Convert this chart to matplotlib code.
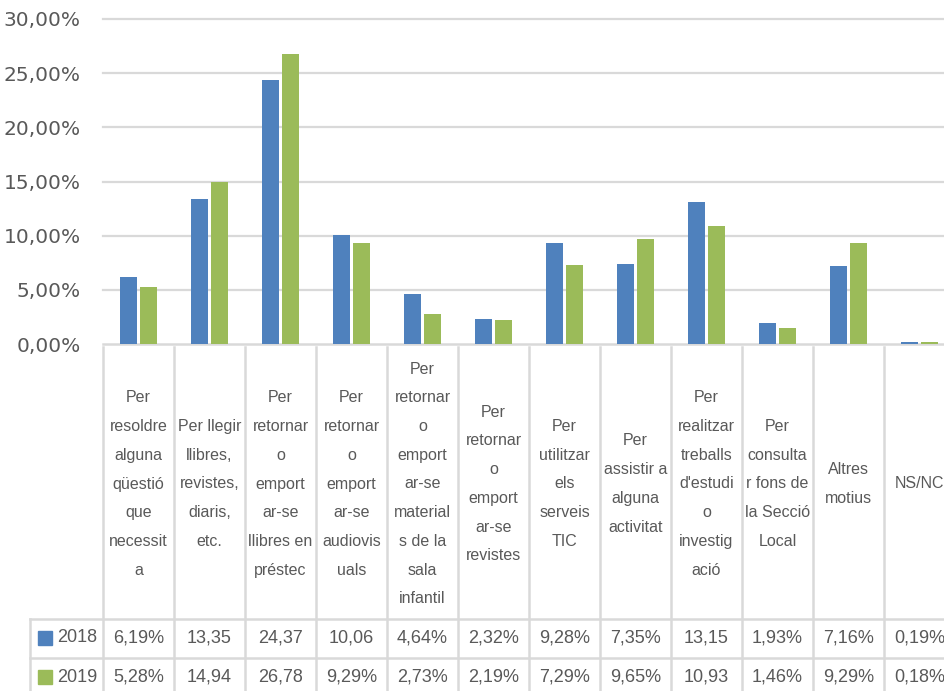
import numpy as np
import matplotlib
matplotlib.use("Agg")
import matplotlib.pyplot as plt
from matplotlib.ticker import FuncFormatter

# motius de visita a la biblioteca, 2018 vs 2019 (%)
categories = [
    "Per\nresoldre\nalguna\nqüestió\nque\nnecessit\na",
    "Per llegir\nllibres,\nrevistes,\ndiaris,\netc.",
    "Per\nretornar\no\nemport\nar-se\nllibres en\npréstec",
    "Per\nretornar\no\nemport\nar-se\naudiovis\nuals",
    "Per\nretornar\no\nemport\nar-se\nmaterial\ns de la\nsala\ninfantil",
    "Per\nretornar\no\nemport\nar-se\nrevistes",
    "Per\nutilitzar\nels\nserveis\nTIC",
    "Per\nassistir a\nalguna\nactivitat",
    "Per\nrealitzar\ntreballs\nd'estudi\no\ninvestig\nació",
    "Per\nconsulta\nr fons de\nla Secció\nLocal",
    "Altres\nmotius",
    "NS/NC",
]
series_names = ["2018", "2019"]
vals_2018 = [6.19, 13.35, 24.37, 10.06, 4.64, 2.32, 9.28, 7.35, 13.15, 1.93, 7.16, 0.19]
vals_2019 = [5.28, 14.94, 26.78, 9.29, 2.73, 2.19, 7.29, 9.65, 10.93, 1.46, 9.29, 0.18]
y_ticks = [0, 5, 10, 15, 20, 25, 30]

colors = ["#4F81BD", "#9BBB59"]
grid_c = "#D9D9D9"
text_c = "#595959"
W, H = 945, 691


def cell_text(v):
    # wide values lose the % sign in the narrow table cells
    s = ("%.2f" % v).replace(".", ",")
    return s if v >= 10 else s + "%"


fig = plt.figure(figsize=(W / 100, H / 100), dpi=100)

# chart area: 0% line at y=344px, 30% line at y=19px, columns 71px wide
cw = 71.0
left_px, base_px, top_px = 103, 344, 19
right_px = left_px + cw * len(categories)
ax = fig.add_axes([left_px / W, (H - base_px) / H,
                   (right_px - left_px) / W, (base_px - top_px) / H])

x = np.arange(len(categories))
bw, off = 0.23, 0.14
for i, (vals, name) in enumerate(zip([vals_2018, vals_2019], series_names)):
    ax.bar(x + (i * 2 - 1) * off, vals, width=bw, color=colors[i],
           label=name, zorder=3)

ax.set_xlim(-0.5, len(categories) - 0.5)
ax.set_ylim(0, 30)
ax.set_yticks(y_ticks)
ax.yaxis.set_major_formatter(FuncFormatter(lambda v, p: ("%.2f%%" % v).replace(".", ",")))
ax.tick_params(axis="y", length=0, pad=16, labelsize=14.5, labelcolor=text_c)
ax.set_xticks([])
for t in y_ticks[1:]:
    ax.axhline(t, color=grid_c, lw=1.6, zorder=1, clip_on=False)
for s in ["top", "right", "left"]:
    ax.spines[s].set_visible(False)
ax.spines["bottom"].set_color(grid_c)
ax.spines["bottom"].set_linewidth(1.8)

# data table below the chart
leg_px = 30
tab = fig.add_axes([leg_px / W, 0, (right_px - leg_px) / W, base_px / H])
x0 = -0.5 - (left_px - leg_px) / cw
tab.set_xlim(x0, len(categories) - 0.5)
tab.set_ylim(base_px, 0)
tab.axis("off")

head_h = 272
row_h = 39
lc = dict(color=grid_c, lw=1.8, clip_on=False)
for k in range(len(categories) + 1):
    tab.plot([k - 0.5, k - 0.5], [0, base_px + 5], **lc)
tab.plot([x0, x0], [head_h, base_px + 5], **lc)
for r in range(2):
    yy = head_h + r * row_h
    tab.plot([x0, len(categories) - 0.5], [yy, yy], **lc)

tf = dict(family=["Liberation Sans", "DejaVu Sans"], color=text_c)
for i, lab in enumerate(categories):
    tab.text(i, 137, lab, ha="center", va="center", multialignment="center",
             fontsize=11.5, linespacing=2.14, **tf)

for r, (vals, name) in enumerate(zip([vals_2018, vals_2019], series_names)):
    yc = head_h + r * row_h + 19
    tab.plot([x0 + 15.5 / cw], [yc], marker="s", markersize=9.4,
             color=colors[r], linestyle="none", clip_on=False)
    tab.text(x0 + 27 / cw, yc, name, ha="left", va="center", fontsize=13, **tf)
    for i, v in enumerate(vals):
        tab.text(i, yc, cell_text(v), ha="center", va="center", fontsize=13, **tf)

fig.savefig("out.png", dpi=100, facecolor="white")
